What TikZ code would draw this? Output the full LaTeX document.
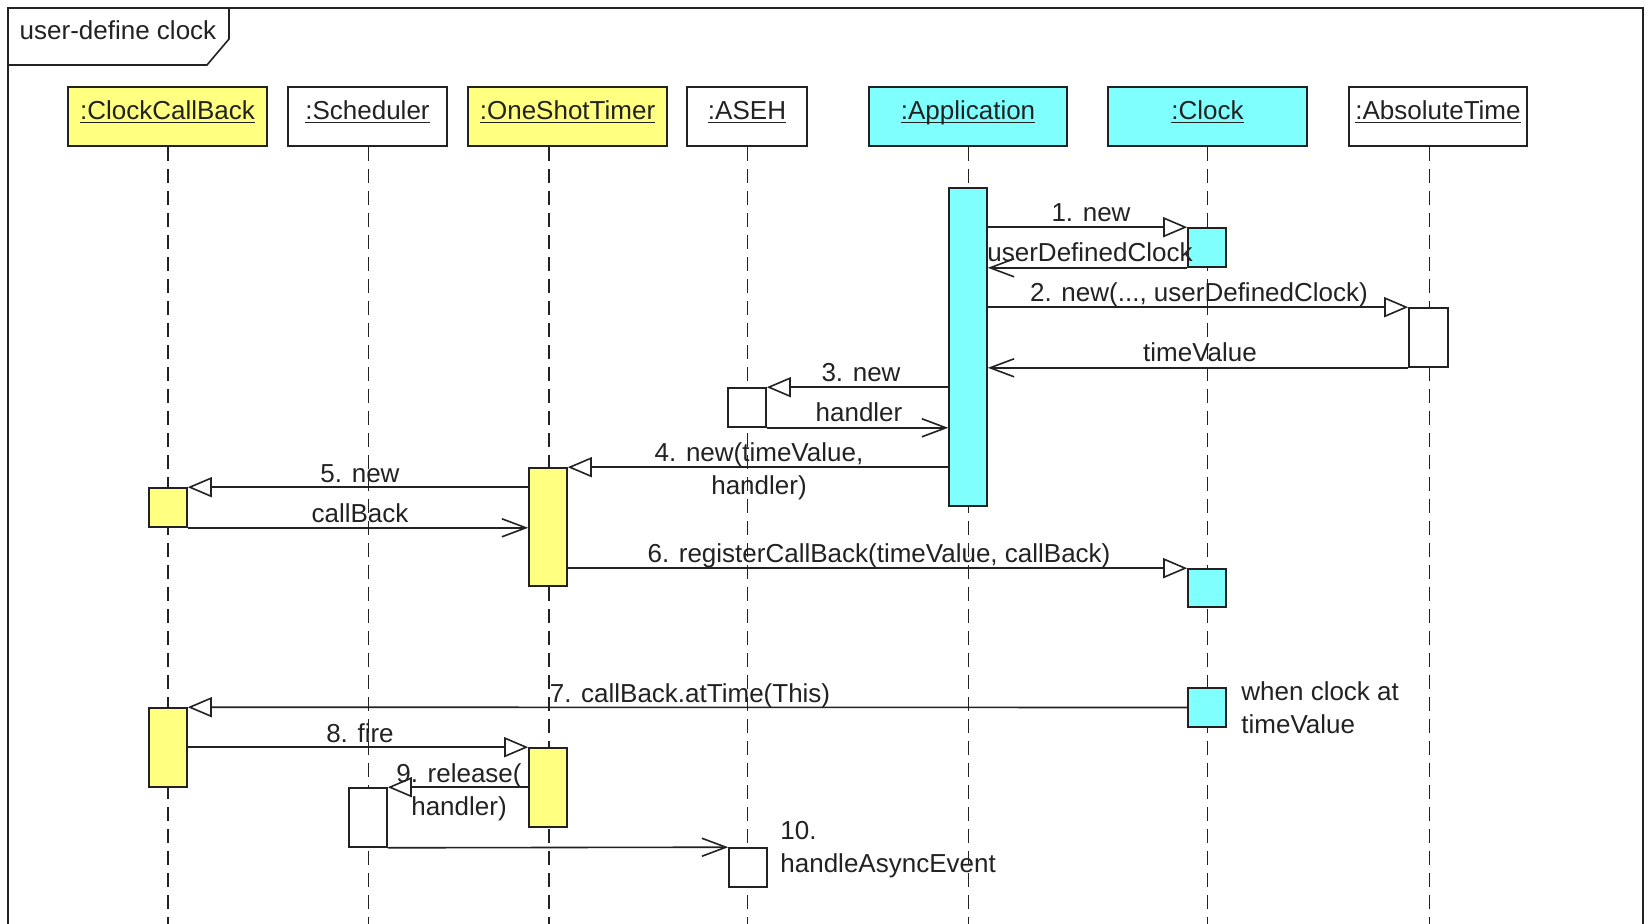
\documentclass[tikz,border=0pt]{standalone}
\usepackage{fontspec}
\setmainfont{Liberation Sans}
\usetikzlibrary{arrows.meta,fit}
\definecolor{uy}{HTML}{FFFF80}
\definecolor{uc}{HTML}{80FFFF}
\definecolor{ink}{HTML}{222222}
\newcommand\ulname[1]{\underline{\smash{#1}}}
\begin{document}
\begin{tikzpicture}[x=0.5pt,y=-0.5pt,
  every node/.style={font=\fontsize{13}{16.5}\selectfont, text=ink},
  head/.style={draw=ink, line width=0.8pt, minimum height=29.5pt, text height=8pt, text depth=5pt, inner sep=0pt},
  life/.style={draw=ink, line width=0.85pt, dash pattern=on 7pt off 4pt},
  act/.style={draw=ink, line width=0.8pt, inner sep=0pt},
  call/.style={draw=ink, line width=0.8pt, -{Triangle[open, length=12pt, width=10pt]}},
  ret/.style={draw=ink, line width=0.8pt, -{Straight Barb[length=12pt, width=9pt]}},
  lbl/.style={inner sep=0pt, text height=0.72em, text depth=0pt, yshift=-1pt},
  lbltwo/.style={inner sep=0pt, align=center},
]
\clip (0,0) rectangle (1649,924);
\fill[white] (0,0) rectangle (1649,924);
% frame
\draw[ink, line width=0.8pt] (8,960) -- (8,8) -- (1643,8) -- (1643,960);
\draw[ink, line width=0.8pt] (8,65) -- (207,65) -- (229,39) -- (229,8);
\node[lbl] (title) at (118,30) {user-define clock};
% heads
\node[head, fill=uy, minimum width=99.5pt] (ccb) at (167.5,116.5) {\ulname{:ClockCallBack}};
\node[head, fill=white, minimum width=79.5pt] (sch) at (367.5,116.5) {\ulname{:Scheduler}};
\node[head, fill=uy, minimum width=99.5pt] (ost) at (567.5,116.5) {\ulname{:OneShotTimer}};
\node[head, fill=white, minimum width=60pt] (aseh) at (747,116.5) {\ulname{:ASEH}};
\node[head, fill=uc, minimum width=99pt] (app) at (968,116.5) {\ulname{:Application}};
\node[head, fill=uc, minimum width=99.5pt] (clk) at (1207.5,116.5) {\ulname{:Clock}};
\node[head, fill=white, minimum width=89pt] (at) at (1438,116.5) {\ulname{:AbsoluteTime}};
% lifelines
\coordinate (ccbE) at (168,930);
\coordinate (schE) at (368.5,930);
\coordinate (ostE) at (549,930);
\coordinate (asehE) at (747.5,930);
\coordinate (appE) at (968.5,930);
\coordinate (clkE) at (1207.5,930);
\coordinate (atE) at (1429.5,930);
\draw[life] (ccb.south -| ccbE) -- (ccbE);
\draw[life] (sch.south -| schE) -- (schE);
\draw[life] (ost.south -| ostE) -- (ostE);
\draw[life] (aseh.south -| asehE) -- (asehE);
\draw[life] (app.south -| appE) -- (appE);
\draw[life] (clk.south -| clkE) -- (clkE);
\draw[life] (at.south -| atE) -- (atE);
% activations
\node[act, fill=uc, fit={(949,188) (987,506)}] (appA) {};
\node[act, fill=uc, fit={(1188,228) (1226,267)}] (clkA1) {};
\node[act, fill=white, fit={(1409,308) (1448,367)}] (atA) {};
\node[act, fill=white, fit={(728,388) (766,427)}] (asehA1) {};
\node[act, fill=uy, fit={(529,468) (567,586)}] (ostA1) {};
\node[act, fill=uy, fit={(149,488) (187,527)}] (ccbA1) {};
\node[act, fill=uc, fit={(1188,569) (1226,607)}] (clkA2) {};
\node[act, fill=uc, fit={(1188,688) (1226,727)}] (clkA3) {};
\node[act, fill=uy, fit={(149,708) (187,787)}] (ccbA2) {};
\node[act, fill=uy, fit={(529,748) (567,827)}] (ostA2) {};
\node[act, fill=white, fit={(349,788) (387,847)}] (schA) {};
\node[act, fill=white, fit={(729,848) (767,887)}] (asehA2) {};
% messages
\draw[call] (appA.east |- clkA1.north west) -- (clkA1.north west);
\draw[ret] (clkA1.south west) -- (appA.east |- clkA1.south west);
\draw[call] (appA.east |- atA.north west) -- (atA.north west);
\draw[ret] (atA.south west) -- (appA.east |- atA.south west);
\draw[call] (appA.west |- asehA1.north east) -- (asehA1.north east);
\draw[ret] (asehA1.south east) -- (appA.west |- asehA1.south east);
\draw[call] (appA.west |- ostA1.north east) -- (ostA1.north east);
\draw[call] (ostA1.west |- ccbA1.north east) -- (ccbA1.north east);
\draw[ret] (ccbA1.south east) -- (ostA1.west |- ccbA1.south east);
\draw[call] (ostA1.east |- clkA2.north west) -- (clkA2.north west);
\draw[call] (clkA3.west) -- (ccbA2.north east);
\draw[call] (ccbA2.east |- ostA2.north west) -- (ostA2.north west);
\draw[call] (ostA2.west |- schA.north east) -- (schA.north east);
\draw[ret] (schA.south east) -- (asehA2.north west);
% labels
\node[lbl] (l1) at (1091,212) {1. new};
\node[lbl] (l1r) at (1090,252) {userDefinedClock};
\node[lbl] (l2) at (1199,292) {2. new(..., userDefinedClock)};
\node[lbl] (l2r) at (1200,352) {timeValue};
\node[lbl] (l3) at (861,372) {3. new};
\node[lbl] (l3r) at (859,412) {handler};
\node[lbltwo] (l4) at (759,471) {4. new(timeValue,\\handler)};
\node[lbl] (l5) at (360,473) {5. new};
\node[lbl] (l5r) at (360,513) {callBack};
\node[lbl] (l6) at (879,553) {6. registerCallBack(timeValue, callBack)};
\node[lbl] (l7) at (690,693) {7. callBack.atTime(This)};
\node[lbltwo, align=left, anchor=west] (note) at (1241,707.5) {when clock at\\timeValue};
\node[lbl] (l8) at (360,733) {8. fire};
\node[lbltwo] (l9) at (459,792.5) {9. release(\\handler)};
\node[lbltwo, align=left, anchor=west] (l10) at (780,849.5) {10.\\handleAsyncEvent};
\end{tikzpicture}
\end{document}
